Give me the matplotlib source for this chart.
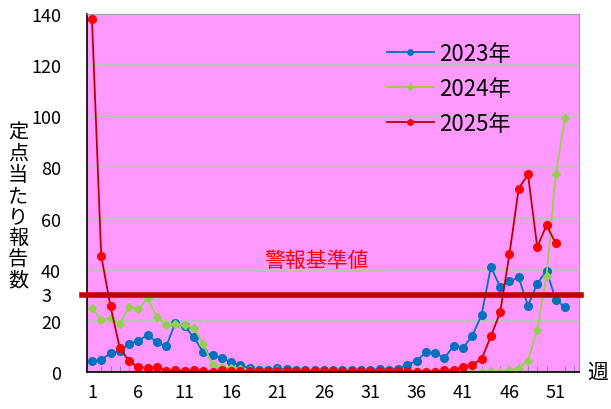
import numpy as np
import matplotlib.pyplot as plt

plt.rcParams['font.family'] = ['Noto Sans CJK JP', 'DejaVu Sans']

# weekly reports per sentinel site
weeks = np.arange(1, 54)
y2023 = [4.2, 4.7, 7.4, 8.1, 11.1, 12.2, 14.5, 11.6, 10.0, 19.3,
         17.8, 13.5, 7.7, 6.6, 5.5, 3.8, 2.7, 1.4, 0.8, 0.8,
         1.4, 1.0, 0.8, 0.6, 0.8, 0.6, 0.7, 0.6, 0.8, 0.8,
         0.9, 1.0, 0.8, 1.2, 2.9, 4.4, 7.7, 7.4, 5.5, 10.3,
         9.4, 14.2, 22.3, 41.1, 33.3, 35.4, 37.0, 25.9, 34.6, 39.6,
         28.3, 25.3]
y2024 = [24.9, 20.4, 21.1, 18.8, 25.3, 24.6, 28.8, 21.4, 18.4, 18.8,
         18.4, 17.1, 10.9, 2.7, 1.8, 1.4, 1.2, 0.6, 0.5, 0.4,
         0.9, 0.4, 0.3, 0.3, 0.3, 0.3, 0.3, 0.3, 0.3, 0.3,
         0.3, 0.3, 0.3, 0.3, 0.3, 0.3, 0.3, 0.3, 0.3, 0.3,
         0.3, 0.1, 0.1, 0.3, 0.1, 0.8, 1.6, 4.4, 16.4, 37.6,
         77.6, 99.5]
y2025 = [138.2, 45.4, 25.7, 9.4, 4.2, 1.8, 1.6, 1.8, 0.5, 0.8,
         0.5, 0.8, 0.5, 0.2, 0.7, 0.5, 0.3, 0.3, 0.3, 0.3,
         0.3, 0.3, 0.3, 0.3, 0.3, 0.3, 0.3, 0.3, 0.4, 0.4,
         0.4, 0.5, 0.5, 0.4, 0.3, 0.2, 0.2, 0.2, 0.8, 0.8,
         2.0, 2.9, 5.1, 13.9, 23.3, 46.0, 71.7, 77.3, 48.9, 57.4,
         50.3]
threshold = 30
xtick_labels = [1, 6, 11, 16, 21, 26, 31, 36, 41, 46, 51]

fig = plt.figure(figsize=(6.11, 4.10), dpi=100)
ax = fig.add_axes([0.1429, 0.0902, 0.8047, 0.8732])
ax.set_facecolor('#FF99FF')

ax.plot(weeks[:len(y2023)], y2023, color='#0070C0', lw=1.3, marker='o', ms=5.5, label='2023年')
ax.plot(weeks[:len(y2024)], y2024, color='#92D050', lw=1.3, marker='D', ms=4.5, label='2024年')
ax.plot(weeks[:len(y2025)], y2025, color='#C00000', lw=1.3, marker='o', ms=5.5,
        mfc='#FF0000', mec='#FF0000', label='2025年')

ax.axhline(threshold, color='#C00000', lw=4, zorder=5, clip_on=False, xmin=-0.01, xmax=1.005)
ax.text(25.2, 39.5, '警報基準値', color='#FF0000', fontsize=15, ha='center', va='bottom')
fig.text(0.076, 1 - 297 / 410, '3', fontsize=13, ha='center', va='center')

ax.set_xlim(0.5, 53.5)
ax.set_ylim(0, 140)
ax.set_yticks(range(0, 141, 20))
ax.set_xticks(xtick_labels)
ax.set_xticks(weeks, minor=True)
ax.tick_params(axis='x', which='minor', direction='in', length=4, color='#808080')
ax.tick_params(axis='x', which='major', length=0, pad=8, labelsize=13)
ax.tick_params(axis='y', length=0, pad=19, labelsize=13)
ax.grid(axis='y', color='#BFBFBF', lw=1.5)
ax.set_axisbelow(True)
for s in ['top', 'right']:
    ax.spines[s].set_color('#A0A0A0')
for s in ['left', 'bottom']:
    ax.spines[s].set_color('black')
    ax.spines[s].set_linewidth(1.2)

fig.text(0.0295, 0.495, '定\n点\n当\nた\nり\n報\n告\n数', fontsize=14.5, ha='center', va='center',
         linespacing=1.0)
fig.text(0.978, 0.09, '週', fontsize=15, ha='center', va='center')

leg = ax.legend(loc='upper left', bbox_to_anchor=(0.569, 0.978), frameon=False,
                fontsize=16, handlelength=2.1, handletextpad=0.22, labelspacing=0.54,
                markerscale=0.7)

fig.savefig('out.png', dpi=100)
